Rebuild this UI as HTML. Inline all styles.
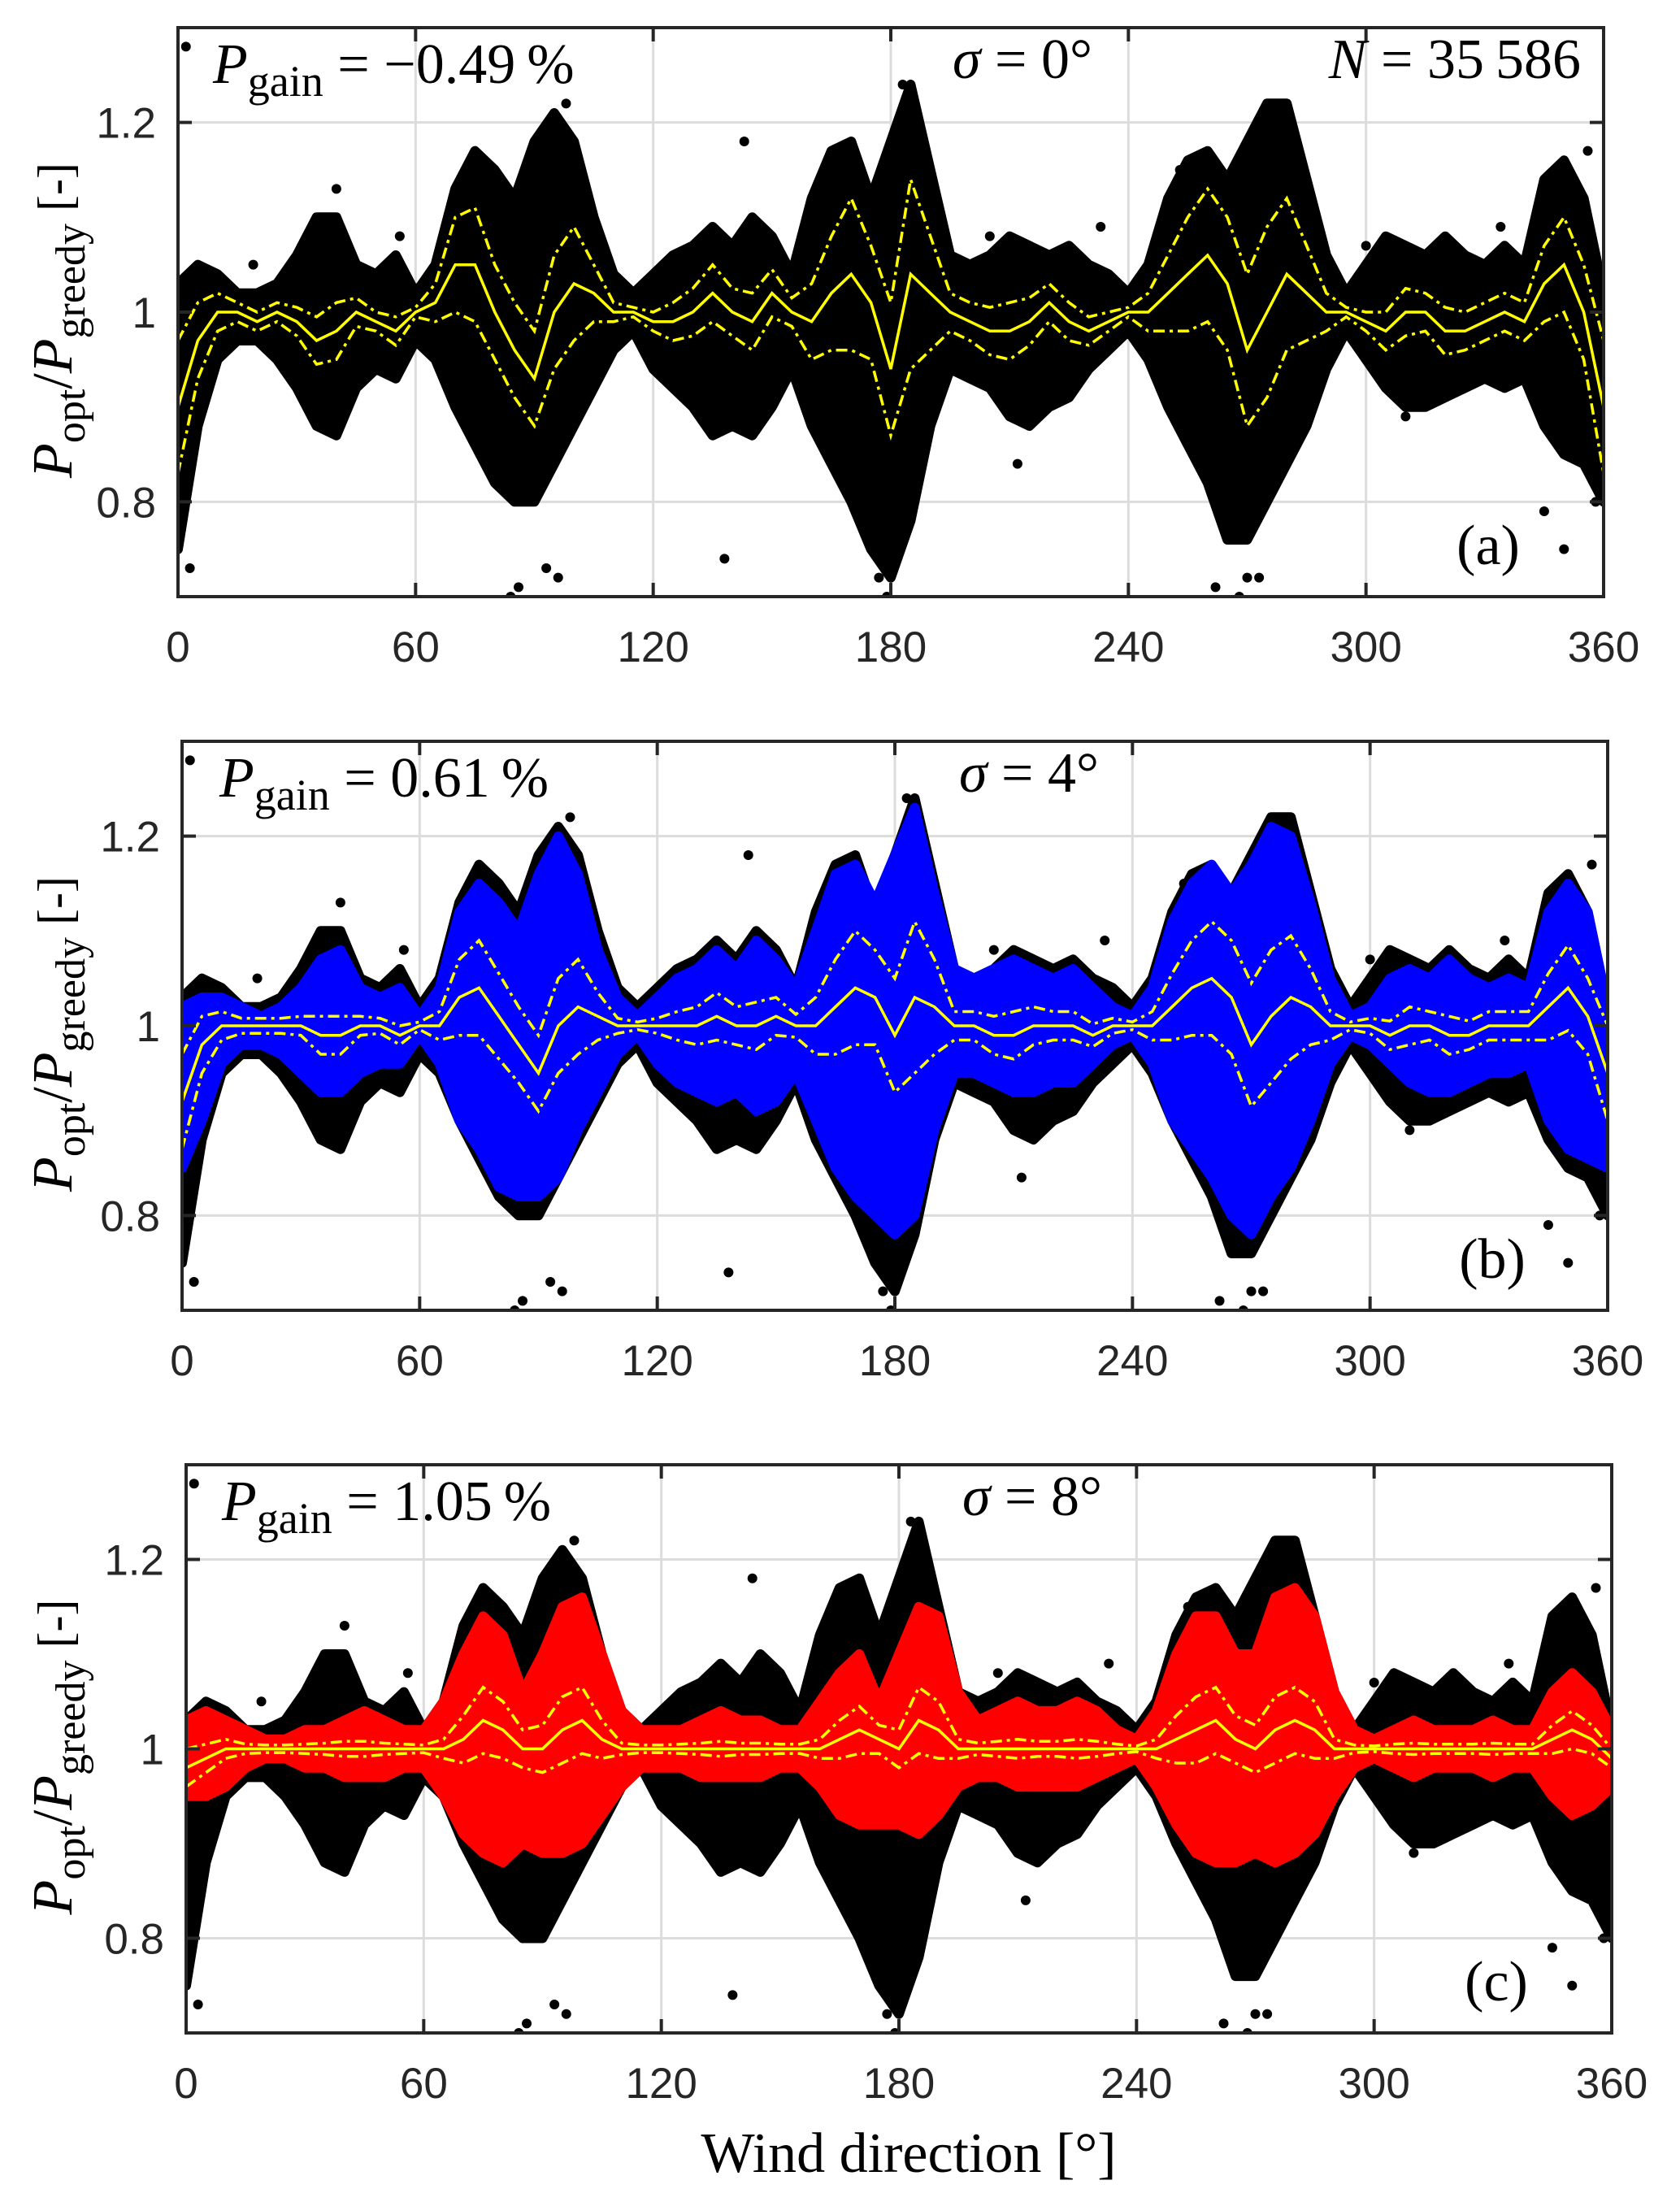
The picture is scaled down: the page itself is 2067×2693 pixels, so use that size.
<!DOCTYPE html>
<html><head><meta charset="utf-8"><style>
html,body{margin:0;padding:0;background:#fff}
svg{display:block}
.tick{font-family:"Liberation Sans",sans-serif;font-size:53px;fill:#262626}
.math{font-family:"Liberation Serif",serif;font-size:70px;fill:#000}
</style></head><body>
<svg id="fig" width="2067" height="2693" viewBox="0 0 2067 2693" xmlns="http://www.w3.org/2000/svg"></svg>
<script>
const directions=[0,5,10,15,20,25,30,35,40,45,50,55,60,65,70,75,80,85,90,95,100,105,110,115,120,125,130,135,140,145,150,155,160,165,170,175,180,185,190,195,200,205,210,215,220,225,230,235,240,245,250,255,260,265,270,275,280,285,290,295,300,305,310,315,320,325,330,335,340,345,350,355,360];
const xTicks=[0,60,120,180,240,300,360];
const yTicks=[0.8,1,1.2];
const yTickLabels=["0.8","1","1.2"];
// black cloud (sigma=0) envelope
const blackUpper=[1.03,1.05,1.04,1.02,1.02,1.03,1.06,1.10,1.10,1.05,1.04,1.06,1.02,1.05,1.13,1.17,1.15,1.12,1.18,1.21,1.18,1.10,1.04,1.02,1.04,1.06,1.07,1.09,1.07,1.10,1.08,1.04,1.12,1.17,1.18,1.12,1.18,1.24,1.15,1.06,1.05,1.06,1.08,1.07,1.06,1.07,1.05,1.04,1.02,1.05,1.12,1.16,1.17,1.14,1.18,1.22,1.22,1.14,1.06,1.02,1.05,1.08,1.07,1.06,1.08,1.06,1.05,1.07,1.05,1.14,1.16,1.12,1.02];
const blackLower=[0.75,0.88,0.95,0.97,0.97,0.95,0.92,0.88,0.87,0.92,0.94,0.93,0.97,0.95,0.90,0.86,0.82,0.80,0.80,0.84,0.88,0.92,0.96,0.98,0.94,0.92,0.90,0.87,0.88,0.87,0.90,0.94,0.88,0.84,0.80,0.75,0.72,0.78,0.88,0.94,0.93,0.92,0.89,0.88,0.90,0.91,0.94,0.96,0.98,0.95,0.90,0.86,0.82,0.76,0.76,0.80,0.84,0.88,0.94,0.98,0.95,0.92,0.90,0.90,0.91,0.92,0.93,0.92,0.93,0.88,0.85,0.84,0.80];
// blue cloud (sigma=4)
const blueUpper=[1.02,1.03,1.03,1.02,1.01,1.02,1.04,1.07,1.08,1.04,1.03,1.04,1.01,1.04,1.12,1.15,1.13,1.10,1.16,1.20,1.16,1.08,1.03,1.01,1.03,1.05,1.06,1.08,1.06,1.09,1.07,1.04,1.10,1.16,1.17,1.13,1.18,1.23,1.14,1.06,1.05,1.06,1.07,1.06,1.05,1.06,1.04,1.02,1.01,1.04,1.11,1.15,1.17,1.14,1.17,1.21,1.20,1.13,1.05,1.01,1.02,1.05,1.06,1.05,1.07,1.05,1.04,1.05,1.04,1.12,1.15,1.12,1.02];
const blueLower=[0.85,0.90,0.96,0.98,0.98,0.97,0.95,0.93,0.93,0.95,0.96,0.96,0.99,0.96,0.90,0.87,0.83,0.82,0.82,0.84,0.89,0.93,0.97,0.99,0.96,0.94,0.93,0.92,0.93,0.91,0.92,0.95,0.90,0.85,0.82,0.80,0.78,0.80,0.89,0.95,0.95,0.94,0.93,0.93,0.94,0.94,0.96,0.98,0.99,0.96,0.90,0.87,0.84,0.80,0.78,0.82,0.85,0.90,0.96,0.99,0.98,0.96,0.94,0.93,0.93,0.94,0.95,0.95,0.96,0.90,0.87,0.86,0.85];
// red cloud (sigma=8)
const redUpper=[1.03,1.04,1.03,1.02,1.01,1.01,1.02,1.02,1.03,1.04,1.03,1.02,1.02,1.05,1.10,1.14,1.12,1.06,1.10,1.15,1.16,1.10,1.04,1.02,1.02,1.02,1.03,1.04,1.03,1.03,1.02,1.02,1.05,1.08,1.10,1.05,1.10,1.15,1.14,1.06,1.03,1.04,1.05,1.04,1.04,1.05,1.04,1.02,1.01,1.04,1.10,1.14,1.14,1.10,1.10,1.16,1.17,1.14,1.06,1.02,1.01,1.02,1.03,1.02,1.02,1.02,1.03,1.02,1.02,1.06,1.08,1.06,1.02];
const redLower=[0.95,0.95,0.96,0.98,0.99,0.99,0.98,0.98,0.97,0.97,0.97,0.98,0.98,0.95,0.91,0.89,0.88,0.90,0.89,0.89,0.90,0.93,0.96,0.98,0.98,0.98,0.97,0.97,0.97,0.97,0.98,0.98,0.96,0.93,0.92,0.92,0.92,0.91,0.93,0.96,0.97,0.97,0.96,0.96,0.96,0.96,0.97,0.98,0.99,0.96,0.92,0.89,0.88,0.88,0.89,0.88,0.89,0.91,0.95,0.98,0.99,0.98,0.97,0.98,0.98,0.98,0.97,0.98,0.98,0.95,0.93,0.94,0.96];
// yellow mean / std lines
const meanA=[0.90,0.97,1.00,1.00,0.99,1.00,0.99,0.97,0.98,1.00,0.99,0.98,1.00,1.01,1.05,1.05,1.00,0.96,0.93,1.00,1.03,1.02,1.00,1.00,0.99,0.99,1.00,1.02,1.00,0.99,1.02,1.00,0.99,1.02,1.04,1.01,0.94,1.04,1.02,1.00,0.99,0.98,0.98,0.99,1.01,0.99,0.98,0.99,1.00,1.00,1.02,1.04,1.06,1.03,0.96,1.00,1.04,1.02,1.00,1.00,0.99,0.98,1.00,1.00,0.98,0.98,0.99,1.00,0.99,1.03,1.05,1.00,0.90];
const stdA=[0.07,0.04,0.02,0.01,0.01,0.01,0.015,0.025,0.03,0.015,0.01,0.015,0.005,0.02,0.05,0.06,0.05,0.05,0.05,0.06,0.06,0.03,0.01,0.005,0.01,0.02,0.025,0.03,0.025,0.03,0.025,0.015,0.04,0.06,0.08,0.06,0.07,0.10,0.06,0.02,0.02,0.025,0.03,0.025,0.02,0.02,0.015,0.01,0.005,0.02,0.04,0.06,0.07,0.07,0.08,0.09,0.08,0.05,0.02,0.005,0.01,0.02,0.025,0.02,0.025,0.02,0.02,0.02,0.02,0.04,0.05,0.05,0.07];
const meanB=[0.92,0.98,1.00,1.00,1.00,1.00,1.00,0.99,0.99,1.00,1.00,0.99,1.00,1.00,1.03,1.04,1.01,0.98,0.95,1.00,1.02,1.01,1.00,1.00,1.00,1.00,1.00,1.01,1.00,1.00,1.01,1.00,1.00,1.02,1.04,1.03,0.99,1.03,1.02,1.00,1.00,0.99,0.99,1.00,1.00,1.00,0.99,1.00,1.00,1.00,1.02,1.04,1.05,1.03,0.98,1.01,1.03,1.02,1.00,1.00,1.00,0.99,1.00,1.00,0.99,0.99,1.00,1.00,1.00,1.02,1.04,1.01,0.95];
const stdB=[0.05,0.03,0.015,0.008,0.008,0.008,0.01,0.02,0.02,0.01,0.008,0.01,0.004,0.015,0.04,0.05,0.045,0.04,0.04,0.05,0.05,0.025,0.008,0.004,0.008,0.015,0.02,0.025,0.02,0.025,0.02,0.012,0.03,0.05,0.06,0.05,0.06,0.08,0.05,0.015,0.015,0.02,0.025,0.02,0.015,0.015,0.012,0.008,0.004,0.015,0.035,0.05,0.06,0.06,0.065,0.07,0.065,0.04,0.015,0.004,0.008,0.015,0.02,0.015,0.02,0.015,0.015,0.015,0.015,0.035,0.045,0.04,0.05];
const meanC=[0.98,0.99,1.00,1.00,1.00,1.00,1.00,1.00,1.00,1.00,1.00,1.00,1.00,1.00,1.01,1.03,1.02,1.00,1.00,1.02,1.03,1.01,1.00,1.00,1.00,1.00,1.00,1.00,1.00,1.00,1.00,1.00,1.00,1.01,1.02,1.01,1.00,1.03,1.02,1.00,1.00,1.00,1.00,1.00,1.00,1.00,1.00,1.00,1.00,1.00,1.01,1.02,1.03,1.01,1.00,1.02,1.03,1.02,1.00,1.00,1.00,1.00,1.00,1.00,1.00,1.00,1.00,1.00,1.00,1.01,1.02,1.01,0.99];
const stdC=[0.02,0.015,0.01,0.005,0.004,0.004,0.005,0.006,0.008,0.008,0.006,0.005,0.004,0.01,0.025,0.035,0.03,0.02,0.025,0.035,0.035,0.02,0.006,0.004,0.004,0.005,0.006,0.008,0.006,0.006,0.005,0.005,0.01,0.02,0.025,0.015,0.02,0.035,0.03,0.01,0.006,0.008,0.01,0.008,0.008,0.01,0.008,0.005,0.003,0.01,0.025,0.035,0.035,0.025,0.025,0.035,0.035,0.03,0.01,0.004,0.003,0.005,0.006,0.005,0.005,0.005,0.006,0.005,0.005,0.015,0.02,0.015,0.01];
// black outlier points [direction, ratio]
const outlierDir=[2,3,19,40,56,84,86,93,96,98,138,143,157,177,179,183,205,212,233,253,262,268,270,273,300,310,334,345,350,356,358];
const outlierVal=[1.28,0.73,1.05,1.13,1.08,0.70,0.71,0.73,0.72,1.22,0.74,1.18,1.04,0.72,0.70,1.24,1.08,0.84,1.09,1.15,0.71,0.70,0.72,0.72,1.07,0.89,1.09,0.79,0.75,1.17,0.80];

const panels=[
 {id:'a',L:219,R:1973,T:34,B:734,pg:'\u22120.49\u2009%',sig:'0',N:true,lab:'(a)',pgX:262,sigX:1172},
 {id:'b',L:224,R:1978,T:912,B:1612,pg:'0.61\u2009%',sig:'4',N:false,lab:'(b)',pgX:270,sigX:1180},
 {id:'c',L:229,R:1983,T:1802,B:2501,pg:'1.05\u2009%',sig:'8',N:false,lab:'(c)',pgX:273,sigX:1184}
];
const NS='http://www.w3.org/2000/svg';
const svg=document.getElementById('fig');
function el(tag,attrs,parent){const e=document.createElementNS(NS,tag);for(const k in attrs)e.setAttribute(k,attrs[k]);(parent||svg).appendChild(e);return e;}

panels.forEach((p,pi)=>{
 const g=el('g',{});
 
 
 const xs=d=>p.L+(d/360)*(p.R-p.L);
 const ys=v=>p.B-(v-0.7)/0.6*(p.B-p.T);
 const clip=el('clipPath',{id:'clip'+p.id},g);
 el('rect',{x:p.L,y:p.T,width:p.R-p.L,height:p.B-p.T},clip);
 xTicks.slice(1,-1).forEach(t=>{const l=el('line',{x1:xs(t),x2:xs(t),y1:p.T,y2:p.B,stroke:'#dcdcdc','stroke-width':3},g);
  });
 yTicks.forEach(t=>{const l=el('line',{x1:p.L,x2:p.R,y1:ys(t),y2:ys(t),stroke:'#dcdcdc','stroke-width':3},g);
  });
 const data=el('g',{'clip-path':'url(#clip'+p.id+')'},g);
 function band(U,Lo,color,name){
  let d='M'+directions.map((x,i)=>xs(x).toFixed(1)+','+ys(U[i]).toFixed(1)).join('L');
  d+='L'+directions.slice().reverse().map((x,j)=>{const i=directions.length-1-j;return xs(x).toFixed(1)+','+ys(Lo[i]).toFixed(1);}).join('L')+'Z';
  const b=el('path',{d:d,fill:color,stroke:color,'stroke-width':12,'stroke-linejoin':'round'},data);
  
  
 }
 band(blackUpper,blackLower,'#000','black-scatter-cloud');
 outlierDir.forEach((d,i)=>{const c=el('circle',{cx:xs(d),cy:ys(outlierVal[i]),r:6,fill:'#000'},data);
  });
 let mean=meanA,std=stdA;
 if(p.id==='b'){band(blueUpper,blueLower,'#0000ff','blue-scatter-cloud');mean=meanB;std=stdB;}
 if(p.id==='c'){band(redUpper,redLower,'#ff0000','red-scatter-cloud');mean=meanC;std=stdC;}
 const line=(vals,dash,name)=>{const l=el('polyline',{points:directions.map((x,i)=>xs(x).toFixed(1)+','+ys(vals[i]).toFixed(1)).join(' '),fill:'none',stroke:'#ffff00','stroke-width':3.5,'stroke-dasharray':dash||'none'},data);
  };
 line(mean.map((m,i)=>m+std[i]),'14 6 4 6','upper-std-line');
 line(mean.map((m,i)=>m-std[i]),'14 6 4 6','lower-std-line');
 line(mean,null,'mean-line');
 const box=el('rect',{x:p.L,y:p.T,width:p.R-p.L,height:p.B-p.T,fill:'none',stroke:'#262626','stroke-width':4},g);
 
 xTicks.forEach(t=>{
  el('line',{x1:xs(t),x2:xs(t),y1:p.B,y2:p.B-17,stroke:'#262626','stroke-width':4},g);
  el('line',{x1:xs(t),x2:xs(t),y1:p.T,y2:p.T+17,stroke:'#262626','stroke-width':4},g);
  const tx=el('text',{x:xs(t),y:p.B+80,'text-anchor':'middle',class:'tick'},g);tx.textContent=t;
  
 });
 yTicks.forEach((t,i)=>{
  el('line',{x1:p.L,x2:p.L+17,y1:ys(t),y2:ys(t),stroke:'#262626','stroke-width':4},g);
  el('line',{x1:p.R,x2:p.R-17,y1:ys(t),y2:ys(t),stroke:'#262626','stroke-width':4},g);
  const tx=el('text',{x:p.L-27,y:ys(t)+19,'text-anchor':'end',class:'tick'},g);tx.textContent=yTickLabels[i];
  
 });
 const cy=(p.T+p.B)/2+10;
 const yt=el('text',{transform:'translate(88,'+cy+') rotate(-90)','text-anchor':'middle',class:'math','font-size':'76'},g);
 yt.innerHTML='<tspan font-style="italic">P</tspan><tspan font-size="52" dy="16">opt</tspan><tspan dy="-16">/</tspan><tspan font-style="italic">P</tspan><tspan font-size="52" dy="16">greedy</tspan><tspan dy="-16" font-size="60">  [-]</tspan>';
 
 const base=p.T+68;
 const pg=el('text',{x:p.pgX,y:base,class:'math','font-size':'74'},g);
 pg.innerHTML='<tspan font-style="italic">P</tspan><tspan font-size="54" dy="16">gain</tspan><tspan dy="-16"> = '+p.pg+'</tspan>';
 
 const sg=el('text',{x:p.sigX,y:base-6,class:'math','font-size':'62'},g);
 sg.innerHTML='<tspan font-style="italic">σ</tspan> = '+p.sig+'°';
 
 if(p.N){const n=el('text',{x:p.R-28,y:base-6,class:'math','text-anchor':'end','font-size':'62'},g);
  n.innerHTML='<tspan font-style="italic">N</tspan> = 35\u2009586';
  }
 const lb=el('text',{x:p.R-142,y:p.B-40,class:'math','text-anchor':'middle','font-size':'74'},g);
 lb.textContent=p.lab;
 
});
const xt=el('text',{x:1118,y:2672,'text-anchor':'middle',class:'math','font-size':'64'});
xt.textContent='Wind direction [°]';


</script>
</body></html>
